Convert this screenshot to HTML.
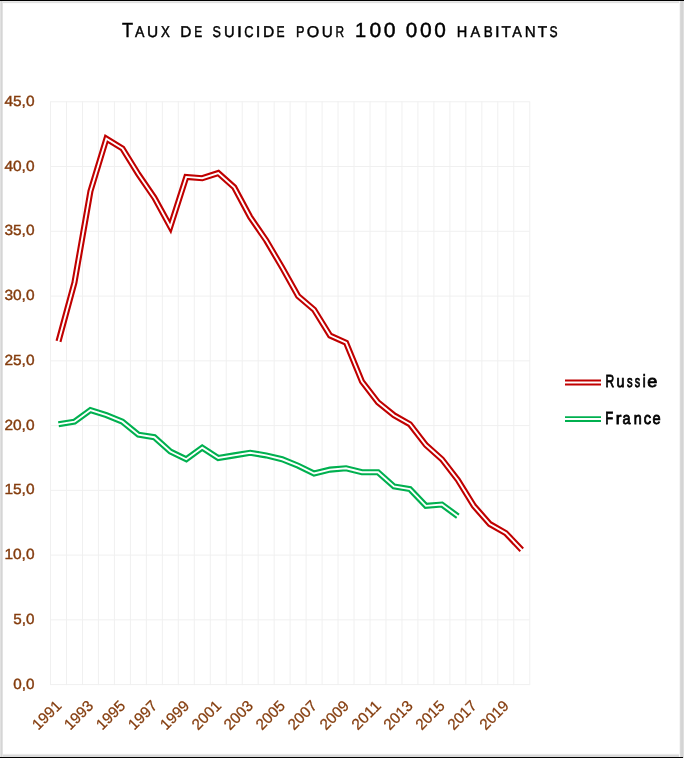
<!DOCTYPE html>
<html><head><meta charset="utf-8"><title>Taux de suicide</title>
<style>
html,body{margin:0;padding:0;background:#fff;}
body{width:684px;height:758px;overflow:hidden;font-family:"Liberation Sans",sans-serif;}
svg{display:block;}
text{font-family:"Liberation Sans",sans-serif;text-rendering:geometricPrecision;}
</style></head><body>
<svg width="684" height="758" viewBox="0 0 684 758">
<defs><filter id="soft" x="0" y="0" width="684" height="758" filterUnits="userSpaceOnUse"><feGaussianBlur stdDeviation="0.35"/></filter></defs>
<rect x="0" y="0" width="684" height="758" fill="#ffffff"/>

<rect x="0" y="1" width="684" height="1" fill="#e8e8e8"/><rect x="0" y="2" width="684" height="1" fill="#e0e0e0"/><rect x="0" y="3" width="679" height="1" fill="#fbfbfb"/>
<rect x="0" y="753" width="679" height="1" fill="#fcfcfc"/><rect x="0" y="754" width="680" height="1" fill="#eaeaea"/><rect x="0" y="755" width="681" height="1" fill="#d8d8d8"/><rect x="0" y="756" width="682" height="1" fill="#dcdcdc"/>
<rect x="0" y="0" width="1" height="758" fill="#e1e1e1"/><rect x="1" y="0" width="1" height="758" fill="#d5d5d5"/><rect x="2" y="0" width="1" height="758" fill="#e2e2e2"/>
<rect x="679" y="0" width="1" height="758" fill="#f6f6f6"/><rect x="680" y="0" width="1" height="758" fill="#dadada"/><rect x="681" y="0" width="1" height="758" fill="#d5d5d5"/><rect x="682" y="0" width="1" height="758" fill="#d4d4d4"/><rect x="683" y="0" width="1" height="758" fill="#e0e0e0"/>
<rect x="0" y="0" width="684" height="1" fill="#000"/><rect x="0" y="757" width="683" height="1" fill="#000"/>
<g filter="url(#soft)">
<g stroke="#f0f0f0" stroke-width="1.0" fill="none"><line x1="50.50" y1="101.30" x2="50.50" y2="685.10"/><line x1="66.47" y1="101.30" x2="66.47" y2="685.10"/><line x1="82.45" y1="101.30" x2="82.45" y2="685.10"/><line x1="98.42" y1="101.30" x2="98.42" y2="685.10"/><line x1="114.40" y1="101.30" x2="114.40" y2="685.10"/><line x1="130.38" y1="101.30" x2="130.38" y2="685.10"/><line x1="146.35" y1="101.30" x2="146.35" y2="685.10"/><line x1="162.32" y1="101.30" x2="162.32" y2="685.10"/><line x1="178.30" y1="101.30" x2="178.30" y2="685.10"/><line x1="194.28" y1="101.30" x2="194.28" y2="685.10"/><line x1="210.25" y1="101.30" x2="210.25" y2="685.10"/><line x1="226.22" y1="101.30" x2="226.22" y2="685.10"/><line x1="242.20" y1="101.30" x2="242.20" y2="685.10"/><line x1="258.17" y1="101.30" x2="258.17" y2="685.10"/><line x1="274.15" y1="101.30" x2="274.15" y2="685.10"/><line x1="290.12" y1="101.30" x2="290.12" y2="685.10"/><line x1="306.10" y1="101.30" x2="306.10" y2="685.10"/><line x1="322.07" y1="101.30" x2="322.07" y2="685.10"/><line x1="338.05" y1="101.30" x2="338.05" y2="685.10"/><line x1="354.02" y1="101.30" x2="354.02" y2="685.10"/><line x1="370.00" y1="101.30" x2="370.00" y2="685.10"/><line x1="385.97" y1="101.30" x2="385.97" y2="685.10"/><line x1="401.95" y1="101.30" x2="401.95" y2="685.10"/><line x1="417.93" y1="101.30" x2="417.93" y2="685.10"/><line x1="433.90" y1="101.30" x2="433.90" y2="685.10"/><line x1="449.88" y1="101.30" x2="449.88" y2="685.10"/><line x1="465.85" y1="101.30" x2="465.85" y2="685.10"/><line x1="481.82" y1="101.30" x2="481.82" y2="685.10"/><line x1="497.80" y1="101.30" x2="497.80" y2="685.10"/><line x1="513.77" y1="101.30" x2="513.77" y2="685.10"/><line x1="529.75" y1="101.30" x2="529.75" y2="685.10"/><line x1="50.50" y1="684.60" x2="529.75" y2="684.60"/><line x1="50.50" y1="619.84" x2="529.75" y2="619.84"/><line x1="50.50" y1="555.09" x2="529.75" y2="555.09"/><line x1="50.50" y1="490.33" x2="529.75" y2="490.33"/><line x1="50.50" y1="425.58" x2="529.75" y2="425.58"/><line x1="50.50" y1="360.82" x2="529.75" y2="360.82"/><line x1="50.50" y1="296.07" x2="529.75" y2="296.07"/><line x1="50.50" y1="231.31" x2="529.75" y2="231.31"/><line x1="50.50" y1="166.56" x2="529.75" y2="166.56"/><line x1="50.50" y1="101.80" x2="529.75" y2="101.80"/></g>
<text x="13.30" y="688.60" font-size="14.6" fill="#843c0c" stroke="#843c0c" stroke-width="0.4" textLength="21.2" lengthAdjust="spacingAndGlyphs">0,0</text>
<text x="13.30" y="623.84" font-size="14.6" fill="#843c0c" stroke="#843c0c" stroke-width="0.4" textLength="21.2" lengthAdjust="spacingAndGlyphs">5,0</text>
<text x="4.40" y="559.09" font-size="14.6" fill="#843c0c" stroke="#843c0c" stroke-width="0.4" textLength="30.1" lengthAdjust="spacingAndGlyphs">10,0</text>
<text x="4.40" y="494.33" font-size="14.6" fill="#843c0c" stroke="#843c0c" stroke-width="0.4" textLength="30.1" lengthAdjust="spacingAndGlyphs">15,0</text>
<text x="4.40" y="429.58" font-size="14.6" fill="#843c0c" stroke="#843c0c" stroke-width="0.4" textLength="30.1" lengthAdjust="spacingAndGlyphs">20,0</text>
<text x="4.40" y="364.82" font-size="14.6" fill="#843c0c" stroke="#843c0c" stroke-width="0.4" textLength="30.1" lengthAdjust="spacingAndGlyphs">25,0</text>
<text x="4.40" y="300.07" font-size="14.6" fill="#843c0c" stroke="#843c0c" stroke-width="0.4" textLength="30.1" lengthAdjust="spacingAndGlyphs">30,0</text>
<text x="4.40" y="235.31" font-size="14.6" fill="#843c0c" stroke="#843c0c" stroke-width="0.4" textLength="30.1" lengthAdjust="spacingAndGlyphs">35,0</text>
<text x="4.40" y="170.56" font-size="14.6" fill="#843c0c" stroke="#843c0c" stroke-width="0.4" textLength="30.1" lengthAdjust="spacingAndGlyphs">40,0</text>
<text x="4.40" y="105.80" font-size="14.6" fill="#843c0c" stroke="#843c0c" stroke-width="0.4" textLength="30.1" lengthAdjust="spacingAndGlyphs">45,0</text>
<text transform="translate(62.39,706.80) rotate(-45)" font-size="15.3" fill="#843c0c" stroke="#843c0c" stroke-width="0.25" text-anchor="end" textLength="34" lengthAdjust="spacingAndGlyphs">1991</text>
<text transform="translate(94.34,706.80) rotate(-45)" font-size="15.3" fill="#843c0c" stroke="#843c0c" stroke-width="0.25" text-anchor="end" textLength="34" lengthAdjust="spacingAndGlyphs">1993</text>
<text transform="translate(126.29,706.80) rotate(-45)" font-size="15.3" fill="#843c0c" stroke="#843c0c" stroke-width="0.25" text-anchor="end" textLength="34" lengthAdjust="spacingAndGlyphs">1995</text>
<text transform="translate(158.24,706.80) rotate(-45)" font-size="15.3" fill="#843c0c" stroke="#843c0c" stroke-width="0.25" text-anchor="end" textLength="34" lengthAdjust="spacingAndGlyphs">1997</text>
<text transform="translate(190.19,706.80) rotate(-45)" font-size="15.3" fill="#843c0c" stroke="#843c0c" stroke-width="0.25" text-anchor="end" textLength="34" lengthAdjust="spacingAndGlyphs">1999</text>
<text transform="translate(222.14,706.80) rotate(-45)" font-size="15.3" fill="#843c0c" stroke="#843c0c" stroke-width="0.25" text-anchor="end" textLength="34" lengthAdjust="spacingAndGlyphs">2001</text>
<text transform="translate(254.09,706.80) rotate(-45)" font-size="15.3" fill="#843c0c" stroke="#843c0c" stroke-width="0.25" text-anchor="end" textLength="34" lengthAdjust="spacingAndGlyphs">2003</text>
<text transform="translate(286.04,706.80) rotate(-45)" font-size="15.3" fill="#843c0c" stroke="#843c0c" stroke-width="0.25" text-anchor="end" textLength="34" lengthAdjust="spacingAndGlyphs">2005</text>
<text transform="translate(317.99,706.80) rotate(-45)" font-size="15.3" fill="#843c0c" stroke="#843c0c" stroke-width="0.25" text-anchor="end" textLength="34" lengthAdjust="spacingAndGlyphs">2007</text>
<text transform="translate(349.94,706.80) rotate(-45)" font-size="15.3" fill="#843c0c" stroke="#843c0c" stroke-width="0.25" text-anchor="end" textLength="34" lengthAdjust="spacingAndGlyphs">2009</text>
<text transform="translate(381.89,706.80) rotate(-45)" font-size="15.3" fill="#843c0c" stroke="#843c0c" stroke-width="0.25" text-anchor="end" textLength="34" lengthAdjust="spacingAndGlyphs">2011</text>
<text transform="translate(413.84,706.80) rotate(-45)" font-size="15.3" fill="#843c0c" stroke="#843c0c" stroke-width="0.25" text-anchor="end" textLength="34" lengthAdjust="spacingAndGlyphs">2013</text>
<text transform="translate(445.79,706.80) rotate(-45)" font-size="15.3" fill="#843c0c" stroke="#843c0c" stroke-width="0.25" text-anchor="end" textLength="34" lengthAdjust="spacingAndGlyphs">2015</text>
<text transform="translate(477.74,706.80) rotate(-45)" font-size="15.3" fill="#843c0c" stroke="#843c0c" stroke-width="0.25" text-anchor="end" textLength="34" lengthAdjust="spacingAndGlyphs">2017</text>
<text transform="translate(509.69,706.80) rotate(-45)" font-size="15.3" fill="#843c0c" stroke="#843c0c" stroke-width="0.25" text-anchor="end" textLength="34" lengthAdjust="spacingAndGlyphs">2019</text>
<polyline points="58.49,424.28 74.46,421.69 90.44,410.04 106.41,415.22 122.39,421.69 138.36,434.64 154.34,437.23 170.31,451.48 186.29,459.25 202.26,447.59 218.24,457.96 234.21,455.37 250.19,452.78 266.16,455.37 282.14,459.25 298.11,465.73 314.09,473.50 330.06,469.61 346.04,468.32 362.01,472.20 377.99,472.20 393.96,486.45 409.94,489.04 425.91,505.87 441.89,504.58 457.86,516.24" fill="none" stroke="#00b050" stroke-width="6.1" stroke-linejoin="miter" stroke-linecap="butt"/><polyline points="57.70,424.41 74.46,421.69 90.44,410.04 106.41,415.22 122.39,421.69 138.36,434.64 154.34,437.23 170.31,451.48 186.29,459.25 202.26,447.59 218.24,457.96 234.21,455.37 250.19,452.78 266.16,455.37 282.14,459.25 298.11,465.73 314.09,473.50 330.06,469.61 346.04,468.32 362.01,472.20 377.99,472.20 393.96,486.45 409.94,489.04 425.91,505.87 441.89,504.58 458.51,516.71" fill="none" stroke="#fff" stroke-width="1.9" stroke-linejoin="miter" stroke-linecap="butt"/>
<polyline points="58.49,341.40 74.46,282.47 90.44,191.16 106.41,138.71 122.39,148.42 138.36,174.33 154.34,197.64 170.31,226.78 186.29,176.92 202.26,178.21 218.24,173.03 234.21,187.28 250.19,217.06 266.16,240.38 282.14,267.57 298.11,296.07 314.09,309.67 330.06,335.57 346.04,342.69 362.01,381.54 377.99,402.27 393.96,415.22 409.94,424.28 425.91,445.00 441.89,459.25 457.86,479.97 473.84,505.87 489.81,524.01 505.79,533.07 521.76,549.91" fill="none" stroke="#c00000" stroke-width="6.1" stroke-linejoin="miter" stroke-linecap="butt"/><polyline points="58.28,342.17 74.46,282.47 90.44,191.16 106.41,138.71 122.39,148.42 138.36,174.33 154.34,197.64 170.31,226.78 186.29,176.92 202.26,178.21 218.24,173.03 234.21,187.28 250.19,217.06 266.16,240.38 282.14,267.57 298.11,296.07 314.09,309.67 330.06,335.57 346.04,342.69 362.01,381.54 377.99,402.27 393.96,415.22 409.94,424.28 425.91,445.00 441.89,459.25 457.86,479.97 473.84,505.87 489.81,524.01 505.79,533.07 522.31,550.49" fill="none" stroke="#fff" stroke-width="1.9" stroke-linejoin="miter" stroke-linecap="butt"/>
<line x1="565" y1="382.45" x2="601" y2="382.45" stroke="#c00000" stroke-width="5.95"/><line x1="564" y1="382.45" x2="602" y2="382.45" stroke="#fff" stroke-width="2"/>
<line x1="565" y1="419.1" x2="601" y2="419.1" stroke="#00b050" stroke-width="5.95"/><line x1="564" y1="419.1" x2="602" y2="419.1" stroke="#fff" stroke-width="2"/>
<g fill="#000" stroke="#000" stroke-width="0.45"><text transform="translate(122.11,37.0) scale(0.8895,1)" font-size="20.4">T</text><text transform="translate(135.09,37.0) scale(0.9049,1)" font-size="15.6">A</text><text transform="translate(146.93,37.0) scale(0.9888,1)" font-size="15.6">U</text><text transform="translate(161.02,37.0) scale(0.8492,1)" font-size="15.6">X</text><text transform="translate(180.15,37.0) scale(0.9914,1)" font-size="15.6">D</text><text transform="translate(194.34,37.0) scale(0.7640,1)" font-size="15.6">E</text><text transform="translate(212.55,37.0) scale(0.8084,1)" font-size="15.6">S</text><text transform="translate(224.08,37.0) scale(0.9437,1)" font-size="15.6">U</text><text transform="translate(236.98,37.0) scale(1.1410,1)" font-size="15.6">I</text><text transform="translate(244.37,37.0) scale(0.8260,1)" font-size="15.6">C</text><text transform="translate(255.78,37.0) scale(1.0723,1)" font-size="15.6">I</text><text transform="translate(263.04,37.0) scale(1.0022,1)" font-size="15.6">D</text><text transform="translate(276.53,37.0) scale(0.7759,1)" font-size="15.6">E</text><text transform="translate(295.88,37.0) scale(0.8142,1)" font-size="15.6">P</text><text transform="translate(306.86,37.0) scale(1.0292,1)" font-size="15.6">O</text><text transform="translate(321.74,37.0) scale(0.9776,1)" font-size="15.6">U</text><text transform="translate(335.54,37.0) scale(0.7622,1)" font-size="15.6">R</text><text transform="translate(355.09,37.0) scale(0.9846,1)" font-size="20.4">1</text><text transform="translate(369.50,37.0) scale(1.0316,1)" font-size="20.4">0</text><text transform="translate(383.69,37.0) scale(1.0419,1)" font-size="20.4">0</text><text transform="translate(405.81,37.0) scale(1.0111,1)" font-size="20.4">0</text><text transform="translate(419.90,37.0) scale(1.0316,1)" font-size="20.4">0</text><text transform="translate(434.31,37.0) scale(1.0214,1)" font-size="20.4">0</text><text transform="translate(456.82,37.0) scale(0.9364,1)" font-size="15.6">H</text><text transform="translate(470.49,37.0) scale(0.9339,1)" font-size="15.6">A</text><text transform="translate(483.82,37.0) scale(0.8624,1)" font-size="15.6">B</text><text transform="translate(494.88,37.0) scale(1.0723,1)" font-size="15.6">I</text><text transform="translate(501.58,37.0) scale(0.9818,1)" font-size="15.6">T</text><text transform="translate(512.29,37.0) scale(0.9242,1)" font-size="15.6">A</text><text transform="translate(524.78,37.0) scale(0.9708,1)" font-size="15.6">N</text><text transform="translate(537.78,37.0) scale(0.9818,1)" font-size="15.6">T</text><text transform="translate(549.47,37.0) scale(0.7750,1)" font-size="15.6">S</text></g>
<g fill="#000" stroke="#000" stroke-width="0.85"><text transform="translate(605.44,387.45) scale(0.6842,1.0000)" font-size="17.6">R</text><text transform="translate(616.49,387.45) scale(0.8159,0.9490)" font-size="17.6">u</text><text transform="translate(627.01,387.45) scale(0.6385,0.9490)" font-size="17.6">s</text><text transform="translate(634.82,387.45) scale(0.6190,0.9490)" font-size="17.6">s</text><text transform="translate(642.65,387.45) scale(0.7434,1.0000)" font-size="17.6">i</text><text transform="translate(647.36,387.45) scale(1.0232,0.9490)" font-size="17.6">e</text></g>
<g fill="#000" stroke="#000" stroke-width="0.85"><text transform="translate(605.36,423.65) scale(0.7382,1.0000)" font-size="17.6">F</text><text transform="translate(615.80,423.65) scale(0.9659,0.9490)" font-size="17.6">r</text><text transform="translate(622.61,423.65) scale(0.8241,0.9490)" font-size="17.6">a</text><text transform="translate(633.87,423.65) scale(0.8159,0.9490)" font-size="17.6">n</text><text transform="translate(643.70,423.65) scale(0.8368,0.9490)" font-size="17.6">c</text><text transform="translate(652.60,423.65) scale(0.8294,0.9490)" font-size="17.6">e</text></g>
</g>
</svg></body></html>
